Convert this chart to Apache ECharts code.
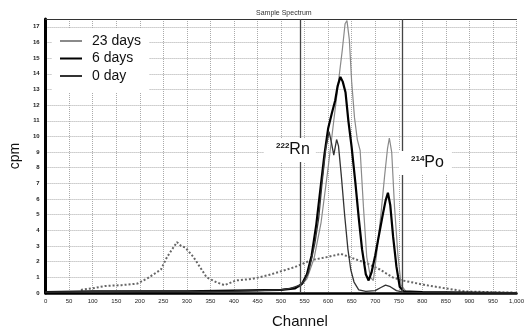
<!DOCTYPE html>
<html>
<head>
<meta charset="utf-8">
<script src="https://cdn.jsdelivr.net/npm/echarts@6/dist/echarts.min.js"></script>
<style>
  html, body { margin: 0; padding: 0; background: #fff; }
  #chart { width: 527px; height: 331px; }
</style>
</head>
<body>
<div id="chart"></div>
<script>
// spectrum data (channel, cpm)
var ch0 = [0, 100, 200, 300, 400, 450, 500, 520, 540, 550, 558, 565, 572, 580, 587, 595, 602, 607, 612, 618, 622, 628, 635, 642, 648, 655, 665, 680, 700, 712, 722, 732, 745, 760, 800, 1000];
var cpm0 = [0.05, 0.08, 0.1, 0.1, 0.12, 0.15, 0.2, 0.3, 0.5, 0.8, 1.3, 2.2, 3.2, 4.8, 7, 9.2, 10.3, 9.6, 8.8, 9.8, 9.4, 7.5, 5, 2.8, 1.5, 0.7, 0.2, 0.1, 0.15, 0.35, 0.5, 0.4, 0.15, 0.05, 0.02, 0];

var ch6 = [0, 100, 200, 300, 400, 500, 530, 545, 555, 565, 575, 585, 592, 600, 608, 615, 620, 626, 631, 637, 643, 650, 658, 665, 672, 680, 686, 692, 700, 708, 716, 722, 727, 732, 738, 745, 752, 760, 800, 1000];
var cpm6 = [0.05, 0.1, 0.1, 0.1, 0.15, 0.2, 0.3, 0.6, 1.2, 2.4, 4.4, 7, 8.8, 10.5, 11.5, 12.3, 13.2, 13.8, 13.5, 12.8, 11, 9.3, 7, 4.8, 2.8, 1.2, 0.8, 1.3, 2.4, 3.7, 5, 5.9, 6.4, 5.6, 3.6, 1.7, 0.4, 0.1, 0.05, 0];

var ch23 = [0, 100, 200, 300, 400, 500, 540, 555, 570, 585, 600, 612, 622, 630, 636, 640, 645, 650, 656, 662, 668, 675, 682, 690, 696, 703, 712, 720, 726, 730, 735, 741, 748, 755, 765, 800, 1000];
var cpm23 = [0.05, 0.08, 0.1, 0.1, 0.12, 0.2, 0.4, 0.9, 2.2, 4.5, 8, 11, 13.5, 15.5, 17.2, 17.4, 16.2, 13.5, 11.2, 9.8, 9.1, 5.5, 2.3, 1.0, 0.8, 2.5, 5, 7.5, 9.2, 9.9, 9, 5.5, 2.5, 0.5, 0.1, 0.05, 0];

// broad background hump (dotted)
var chBg = [75, 100, 127, 161, 195, 217, 245, 258, 269, 279, 288, 297, 314, 328, 342, 362, 380, 404, 439, 474, 529, 564, 599, 627, 654, 682, 710, 737, 758, 808, 849, 890, 950, 1000];
var cpmBg = [0.2, 0.3, 0.45, 0.5, 0.6, 0.95, 1.5, 2.3, 2.8, 3.25, 3.0, 2.9, 2.3, 1.65, 1.0, 0.7, 0.5, 0.8, 0.9, 1.15, 1.65, 2.1, 2.3, 2.5, 2.2, 1.9, 1.5, 1.0, 0.8, 0.5, 0.3, 0.1, 0.05, 0.02];

var windowLines = [540, 757];
var legendNames = ['23 days', '6 days', '0 day'];

function pairs(xs, ys) {
  return xs.map(function (x, i) { return [x, ys[i]]; });
}

var chart = echarts.init(document.getElementById('chart'));
var font = 'Liberation Sans, Arial, sans-serif';

chart.setOption({
  animation: false,
  title: {
    text: 'Sample Spectrum',
    left: 251, top: 5,
    textStyle: { fontSize: 7, fontWeight: 'normal', color: '#333', fontFamily: font }
  },
  legend: {
    data: legendNames,
    orient: 'vertical',
    left: 52, top: 29,
    backgroundColor: '#fff',
    padding: [5, 8, 9, 8],
    itemGap: 3.5,
    icon: 'rect',
    itemWidth: 22, itemHeight: 2,
    textStyle: { fontSize: 14, color: '#111', fontFamily: font, padding: [0, 0, 0, 5] }
  },
  grid: { left: 39, right: 8, top: 19, bottom: 38 },
  xAxis: [{
    type: 'value', min: 0, max: 1000, interval: 50,
    axisLine: { lineStyle: { color: '#000', width: 2.5 } },
    axisTick: { show: false },
    axisLabel: {
      fontSize: 6, color: '#222', margin: 5, fontFamily: font,
      formatter: function (v) { return v === 1000 ? '1,000' : v; }
    },
    splitLine: { lineStyle: { color: '#aaa', type: 'dotted' } }
  }, {
    type: 'value', min: 0, max: 1000, position: 'top',
    axisLine: { show: true, lineStyle: { color: '#333', width: 1.2 } },
    axisTick: { show: false }, axisLabel: { show: false }, splitLine: { show: false }
  }],
  yAxis: {
    type: 'value', min: 0, max: 17.5, interval: 1,
    name: 'cpm', nameLocation: 'middle', nameGap: 21,
    nameTextStyle: { fontSize: 14, color: '#111', fontFamily: font },
    axisLine: { show: true, lineStyle: { color: '#000', width: 3 } },
    axisTick: { show: false },
    axisLabel: {
      fontSize: 6, color: '#222', fontWeight: 'bold', margin: 6, fontFamily: font,
      formatter: function (v) { return v % 1 === 0 ? v : ''; }
    },
    splitLine: { lineStyle: { color: '#aaa', type: 'dotted' } }
  },
  series: [
    {
      name: 'background', type: 'line', symbol: 'none',
      data: pairs(chBg, cpmBg),
      lineStyle: { color: '#666', width: 2, type: 'dotted' },
      markLine: {
        silent: true, symbol: 'none', label: { show: false },
        lineStyle: { color: '#444', width: 1.3, type: 'solid' },
        data: windowLines.map(function (v) { return { xAxis: v }; })
      }
    },
    {
      name: '23 days', type: 'line', symbol: 'none',
      data: pairs(ch23, cpm23),
      lineStyle: { color: '#8a8a8a', width: 1.2 }, itemStyle: { color: '#8a8a8a' }
    },
    {
      name: '6 days', type: 'line', symbol: 'none',
      data: pairs(ch6, cpm6),
      lineStyle: { color: '#000', width: 2.2 }, itemStyle: { color: '#000' }
    },
    {
      name: '0 day', type: 'line', symbol: 'none',
      data: pairs(ch0, cpm0),
      lineStyle: { color: '#333', width: 1.3 }, itemStyle: { color: '#333' }
    }
  ],
  graphic: [
    {
      type: 'text', left: 264, top: 138, z: 100,
      style: {
        text: '{s|222}{b|Rn}', backgroundColor: '#fff', padding: [4, 6, 4, 12],
        rich: {
          s: { fontSize: 8, fontWeight: 'bold', fontFamily: font, fill: '#111', verticalAlign: 'top', padding: [0, 0, 7, 0] },
          b: { fontSize: 16, fontFamily: font, fill: '#111' }
        }
      }
    },
    {
      type: 'text', left: 399, top: 151, z: 100,
      style: {
        text: '{s|214}{b|Po}', backgroundColor: '#fff', padding: [4, 8, 4, 12],
        rich: {
          s: { fontSize: 8, fontWeight: 'bold', fontFamily: font, fill: '#111', verticalAlign: 'top', padding: [0, 0, 7, 0] },
          b: { fontSize: 16, fontFamily: font, fill: '#111' }
        }
      }
    },
    {
      type: 'text', left: 272, top: 314,
      style: { text: 'Channel', fontSize: 15, fontFamily: font, fill: '#111' }
    }
  ]
});
</script>
</body>
</html>
